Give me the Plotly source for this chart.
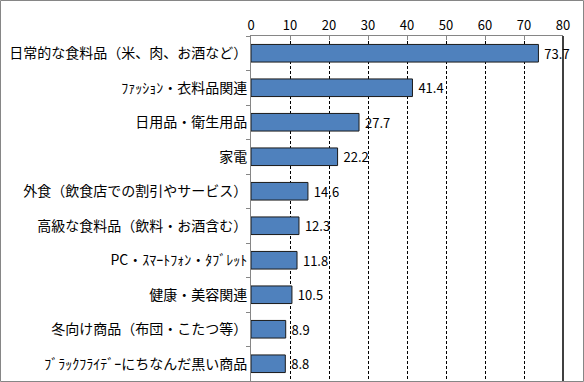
import plotly.graph_objects as go

categories = [
    "日常的な食料品（米、肉、お酒など）",
    "ﾌｧｯｼｮﾝ・衣料品関連",
    "日用品・衛生用品",
    "家電",
    "外食（飲食店での割引やサービス）",
    "高級な食料品（飲料・お酒含む）",
    "PC・ｽﾏｰﾄﾌｫﾝ・ﾀﾌﾞﾚｯﾄ",
    "健康・美容関連",
    "冬向け商品（布団・こたつ等）",
    "ﾌﾞﾗｯｸﾌﾗｲﾃﾞｰにちなんだ黒い商品",
]
values = [73.7, 41.4, 27.7, 22.2, 14.6, 12.3, 11.8, 10.5, 8.9, 8.8]
tick_values = [0, 10, 20, 30, 40, 50, 60, 70, 80]

FONT = "Noto Sans CJK JP"
W, H = 584, 382
ML, MR, MT, MB = 251, 21, 36, 1

fig = go.Figure(go.Bar(
    x=values, y=categories, orientation="h",
    marker=dict(color="#4F81BD", line=dict(color="#1a1a1a", width=1)),
    text=[f" {v:.1f}" for v in values], textposition="outside",
    textfont=dict(family=FONT, size=13, color="#000"),
    constraintext="none",
    cliponaxis=False,
))

fig.update_layout(
    width=W, height=H,
    margin=dict(l=ML, r=MR, t=MT, b=MB, autoexpand=False),
    paper_bgcolor="white", plot_bgcolor="white",
    bargap=0.49,
    showlegend=False,
    font=dict(family=FONT, size=13, color="#000"),
    xaxis=dict(
        side="top", range=[0, 80], tickvals=tick_values,
        showgrid=True, gridcolor="#000", gridwidth=1, griddash="3px,2px",
        showline=True, linecolor="#868686", linewidth=1,
        ticks="inside", ticklen=4, tickcolor="#868686",
        tickfont=dict(family=FONT, size=13), zeroline=False, automargin=False,
    ),
    yaxis=dict(
        autorange="reversed", showline=True, linecolor="#868686", linewidth=1,
        ticks="outside", ticklen=4, tickcolor="#868686", tickson="boundaries",
        tickfont=dict(family=FONT, size=14), showgrid=False, automargin=False,
    ),
)

# solid right edge of plot area at max
fig.add_shape(type="line", xref="paper", yref="paper", x0=1, x1=1, y0=0, y1=1,
              line=dict(color="#000", width=1.5))

# outer frame of the image
pw = W - ML - MR
ph = H - MT - MB
fx0 = (0.5 - ML) / pw
fx1 = (W - 0.5 - ML) / pw
fy0 = (-MB + 0.5) / ph
fy1 = (H - MB - 0.5) / ph
fig.add_shape(type="rect", xref="paper", yref="paper", x0=fx0, x1=fx1, y0=fy0, y1=fy1,
              line=dict(color="#868686", width=1), layer="above")

fig.write_html("out.html", config={"displayModeBar": False},
               post_script="document.body.style.margin='0';")
